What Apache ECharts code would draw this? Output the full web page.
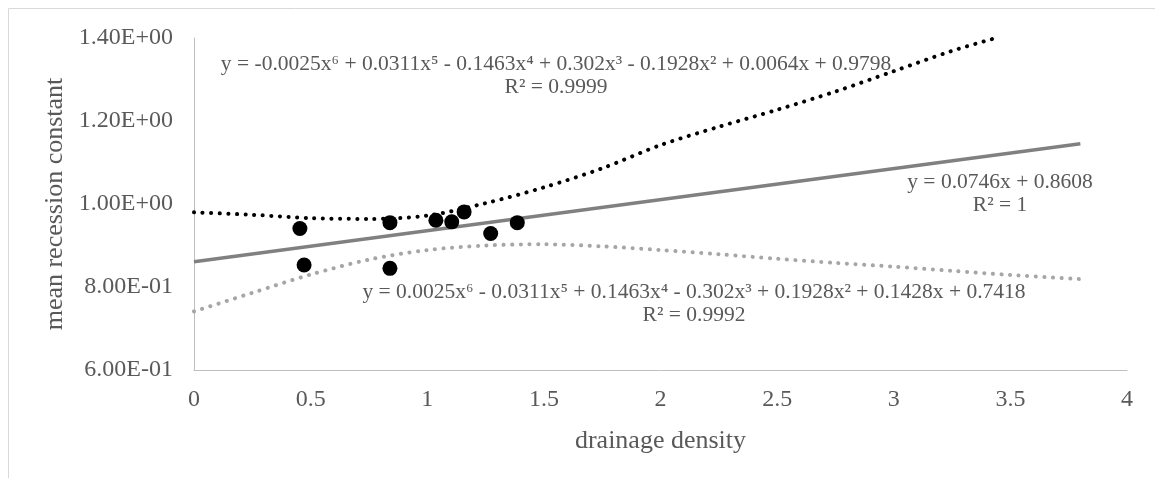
<!DOCTYPE html>
<html>
<head>
<meta charset="utf-8">
<script src="https://cdn.jsdelivr.net/npm/echarts@6/dist/echarts.min.js"></script>
<style>
  html, body { margin: 0; padding: 0; background: #fff; }
  #chart { width: 1155px; height: 478px; }
</style>
</head>
<body>
<div id="chart"></div>
<script>
// observed points
var densityX = [0.454, 0.472, 0.840, 0.840, 1.037, 1.105, 1.158, 1.272, 1.386];
var recessionY = [0.941, 0.853, 0.955, 0.845, 0.961, 0.957, 0.981, 0.929, 0.955];

// upper poly trend (black dotted)
var upperX = [0, 0.25, 0.5, 0.75, 1.0, 1.25, 1.5, 1.75, 2.0, 2.25, 2.5, 2.75, 3.0, 3.25, 3.45];
var upperY = [0.980, 0.974, 0.966, 0.964, 0.972, 1.002, 1.040, 1.086, 1.142, 1.186, 1.227, 1.271, 1.320, 1.369, 1.402];

// linear trend (grey solid)
var linearX = [0, 3.8];
var linearY = [0.861, 1.145];

// lower poly trend (light grey dotted)
var lowerX = [0, 0.25, 0.5, 0.75, 1.0, 1.25, 1.5, 1.75, 2.0, 2.25, 2.5, 2.75, 3.0, 3.25, 3.5, 3.8];
var lowerY = [0.741, 0.786, 0.830, 0.866, 0.889, 0.900, 0.903, 0.898, 0.889, 0.879, 0.868, 0.858, 0.849, 0.839, 0.829, 0.819];

var upperLabel = 'y = -0.0025x\u2076 + 0.0311x\u2075 - 0.1463x\u2074 + 0.302x\u00b3 - 0.1928x\u00b2 + 0.0064x + 0.9798\nR\u00b2 = 0.9999';
var linearLabel = 'y = 0.0746x + 0.8608\nR\u00b2 = 1';
var lowerLabel = 'y = 0.0025x\u2076 - 0.0311x\u2075 + 0.1463x\u2074 - 0.302x\u00b3 + 0.1928x\u00b2 + 0.1428x + 0.7418\nR\u00b2 = 0.9992';

function pairs(xs, ys) {
  var out = [];
  for (var i = 0; i < xs.length; i++) out.push([xs[i], ys[i]]);
  return out;
}

var serif = '"Liberation Serif", "Times New Roman", serif';
var textGrey = '#595959';

var chart = echarts.init(document.getElementById('chart'));

var option = {
  animation: false,
  backgroundColor: '#fff',
  grid: { left: 194, right: 28, top: 38, bottom: 108 },
  xAxis: {
    type: 'value',
    min: 0, max: 4, interval: 0.5,
    name: 'drainage density',
    nameLocation: 'middle',
    nameGap: 58,
    nameTextStyle: { fontFamily: serif, fontSize: 26, color: textGrey },
    axisLine: { show: true, lineStyle: { color: '#bfbfbf', width: 1 } },
    axisTick: { show: false },
    splitLine: { show: false },
    axisLabel: { fontFamily: serif, fontSize: 24, color: textGrey, margin: 18 }
  },
  yAxis: {
    type: 'value',
    min: 0.6, max: 1.4, interval: 0.2,
    name: 'mean recession constant',
    nameLocation: 'middle',
    nameGap: 112,
    nameTextStyle: { fontFamily: serif, fontSize: 26, color: textGrey },
    axisLine: { show: true, lineStyle: { color: '#bfbfbf', width: 1 } },
    axisTick: { show: false },
    splitLine: { show: false },
    axisLabel: {
      fontFamily: serif, fontSize: 24, color: textGrey, margin: 21,
      formatter: function (v) {
        var s = v.toExponential(2).toUpperCase();
        var parts = s.split('E');
        var e = parseInt(parts[1], 10);
        var es = (e < 0 ? '-' : '+') + (Math.abs(e) < 10 ? '0' : '') + Math.abs(e);
        return parts[0] + 'E' + es;
      }
    }
  },
  graphic: [
    {
      type: 'rect', silent: true, z: -1,
      shape: { x: 8.5, y: 8.5, width: 1200, height: 500 },
      style: { fill: 'none', stroke: '#d9d9d9', lineWidth: 1 }
    },
    {
      type: 'text', x: 556, y: 53,
      style: { text: upperLabel, font: '21.5px ' + serif, fill: textGrey,
        textAlign: 'center', textVerticalAlign: 'top', lineHeight: 23 }
    },
    {
      type: 'text', x: 1000, y: 171,
      style: { text: linearLabel, font: '21.5px ' + serif, fill: textGrey,
        textAlign: 'center', textVerticalAlign: 'top', lineHeight: 23 }
    },
    {
      type: 'text', x: 694, y: 281,
      style: { text: lowerLabel, font: '21.5px ' + serif, fill: textGrey,
        textAlign: 'center', textVerticalAlign: 'top', lineHeight: 23 }
    }
  ],
  series: [
    {
      type: 'line', data: pairs(upperX, upperY), smooth: 0.3, showSymbol: false,
      lineStyle: { color: '#000', width: 4, type: [0.1, 8.5], cap: 'round' }, z: 2
    },
    {
      type: 'line', data: pairs(linearX, linearY), showSymbol: false,
      lineStyle: { color: '#808080', width: 3.5, type: 'solid' }, z: 2
    },
    {
      type: 'line', data: pairs(lowerX, lowerY), smooth: 0.3, showSymbol: false,
      lineStyle: { color: '#a6a6a6', width: 4, type: [0.1, 8.5], cap: 'round' }, z: 2
    },
    {
      type: 'scatter', data: pairs(densityX, recessionY),
      symbol: 'circle', symbolSize: 15,
      itemStyle: { color: '#000', opacity: 1 }, z: 3
    }
  ]
};

chart.setOption(option);
window.onresize = chart.resize;
</script>
</body>
</html>
